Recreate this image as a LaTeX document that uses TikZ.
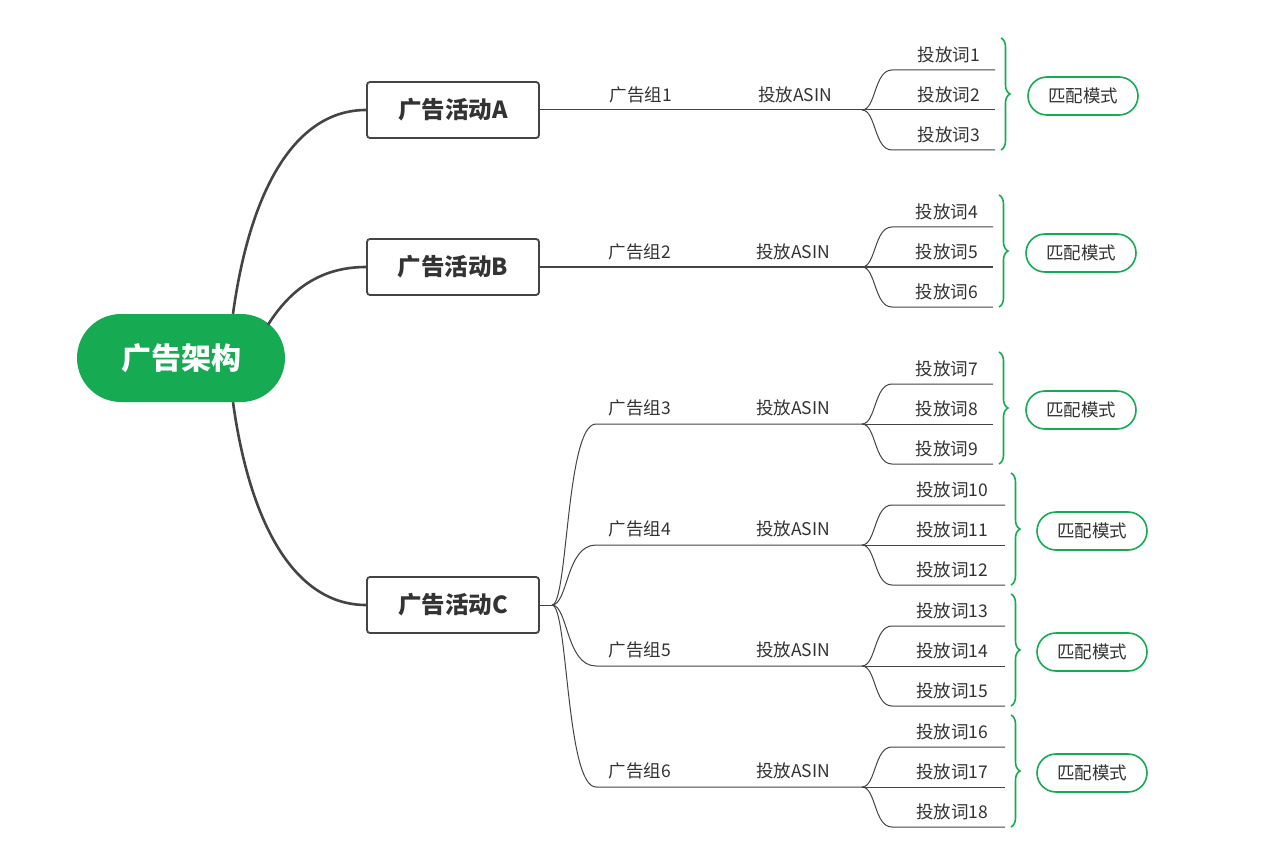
\documentclass[tikz,border=0pt]{standalone}
\usepackage{fontspec}
\setmainfont{Noto Sans CJK SC}
\usetikzlibrary{decorations.pathreplacing}
\definecolor{gr}{HTML}{16AB52}
\definecolor{txt}{HTML}{333333}
\definecolor{ln}{HTML}{444444}
\tikzset{
 lbl/.style={font=\fontsize{17.5}{18}\selectfont, text=txt, inner sep=0},
 camp/.style={draw=ln, line width=1.8pt, rounded corners=3pt, minimum width=172pt, minimum height=56pt, font=\bfseries\fontsize{23.5}{24}\selectfont, text=txt, fill=white},
 thin/.style={draw=ln, line width=1pt},
 thick/.style={draw=ln, line width=2.6pt},
 br/.style={draw=gr, line width=1.6pt, decorate, decoration={brace, amplitude=9pt}},
 pill/.style={draw=gr, line width=1.6pt, rounded corners=19pt, minimum width=110pt, minimum height=38pt, font=\fontsize{17.5}{18}\selectfont, text=txt, fill=white}
}
\newcommand\wfork[6]{% name, y, first idx, endx, pillx, gx
 \coordinate (#1f) at (862,#2);
 \pgfmathtruncatemacro\wa{#3}\pgfmathtruncatemacro\wb{#3+1}\pgfmathtruncatemacro\wc{#3+2}
 \node[lbl] (w\wa) at (#6,#2-55) {投放词\wa};
 \node[lbl] (w\wb) at (#6,#2-15) {投放词\wb};
 \node[lbl] (w\wc) at (#6,#2+25) {投放词\wc};
 \draw[thin] (#1f) .. controls (876,#2) and (874,#2-40) .. (892,#2-40) -- (#4,#2-40);
 \draw[thin] (#1f) -- (#4,#2);
 \draw[thin] (#1f) .. controls (876,#2) and (874,#2+40) .. (892,#2+40) -- (#4,#2+40);
 \draw[br] (#4+6,#2-72) -- (#4+6,#2+40);
 \node[pill] (#1p) at (#5,#2-14) {匹配模式};
}
\begin{document}
\begin{tikzpicture}[x=1pt,y=-1pt]
\useasboundingbox (0,0) rectangle (1280,861);
\fill[white] (0,0) rectangle (1280,861);
\node[fill=gr, rounded corners=44pt, minimum width=208pt, minimum height=88pt, text=white, font=\bfseries\fontsize{30}{30}\selectfont] (root) at (181,358) {广告架构};
\node[camp] (cA) at (453,110) {广告活动A};
\node[camp] (cB) at (453,267) {广告活动B};
\node[camp] (cC) at (453,605) {广告活动C};
\draw[thick] ([xshift=52pt]root.north) .. controls (250,190) and (295,110) .. (cA.west);
\draw[thick] ([xshift=87pt,yshift=-11pt]root.north) .. controls (290,290) and (320,267) .. (cB.west);
\draw[thick] ([xshift=52pt]root.south) .. controls (250,525) and (295,605) .. (cC.west);
% A
\wfork{A}{110}{1}{995}{1083}{949}
\node[lbl] (g1) at (641,95) {广告组1};
\node[lbl] (a1) at (795,95) {投放ASIN};
\draw[thin] (cA.east) -- (Af);
% B
\wfork{B}{267}{4}{993}{1081}{947}
\node[lbl] (g2) at (640,252) {广告组2};
\node[lbl] (a2) at (793,252) {投放ASIN};
\draw[thin] (cB.east) -- (Bf);
% C
\coordinate (cj) at (552,605);
\draw[thin] (cC.east) -- (cj);
\wfork{C}{424}{7}{993}{1081}{947}
\wfork{D}{545}{10}{1005}{1092}{952}
\wfork{E}{666}{13}{1005}{1092}{952}
\wfork{F}{787}{16}{1005}{1092}{952}
\foreach \y/\n/\g in {424/C/3,545/D/4,666/E/5,787/F/6}{
 \draw[thin] (cj) .. controls (568,605) and (566,\y) .. (596,\y) -- (\n f);
 \node[lbl] (g\g) at (640,\y-16) {广告组\g};
 \node[lbl] (a\g) at (793,\y-16) {投放ASIN};
}
\end{tikzpicture}
\end{document}
